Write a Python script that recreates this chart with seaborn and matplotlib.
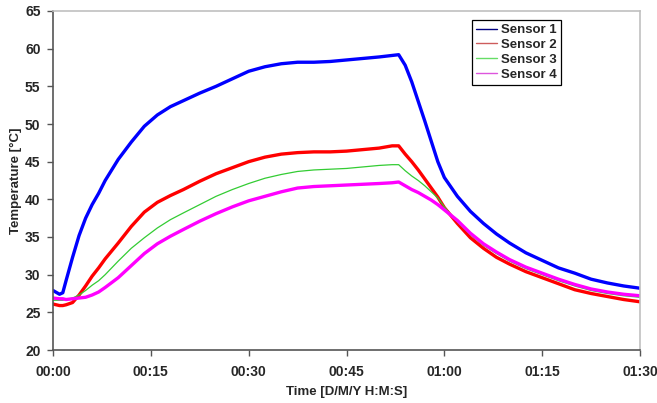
import pandas as pd
import matplotlib
matplotlib.use("Agg")
import matplotlib.pyplot as plt
from matplotlib.lines import Line2D
from matplotlib.ticker import FuncFormatter, MultipleLocator
import seaborn as sns

sns.set_style("white")
plt.rcParams['font.family'] = ['Liberation Sans', 'DejaVu Sans']

# time in minutes since start
time_min = [0, 1, 1.5, 2, 3, 4, 5, 6, 7, 8, 10, 12, 14, 16, 18, 20, 22.5, 25, 27.5,
            30, 32.5, 35, 37.5, 40, 42.5, 45, 47.5, 50, 52, 53, 54, 55, 56, 57,
            58, 59, 60, 62, 64, 66, 68, 70, 72.5, 75, 77.5, 80, 82.5, 85, 87.5, 90]

sensor1 = [27.9, 27.4, 27.6, 29.2, 32.3, 35.2, 37.5, 39.3, 40.8, 42.5, 45.3, 47.6,
           49.7, 51.2, 52.3, 53.1, 54.1, 55.0, 56.0, 57.0, 57.6, 58.0, 58.2, 58.2,
           58.3, 58.5, 58.7, 58.9, 59.1, 59.2, 57.8, 55.6, 53.0, 50.4, 47.7, 45.0,
           42.9, 40.4, 38.4, 36.8, 35.4, 34.2, 32.9, 31.9, 30.9, 30.2, 29.4, 28.9,
           28.5, 28.2]

sensor2 = [26.1, 25.9, 25.9, 26.0, 26.3, 27.3, 28.5, 29.8, 30.9, 32.1, 34.2, 36.4,
           38.3, 39.6, 40.5, 41.3, 42.4, 43.4, 44.2, 45.0, 45.6, 46.0, 46.2, 46.3,
           46.3, 46.4, 46.6, 46.8, 47.1, 47.1, 46.0, 45.0, 43.9, 42.7, 41.5, 40.3,
           38.9, 36.8, 34.9, 33.5, 32.3, 31.4, 30.4, 29.6, 28.8, 28.0, 27.5, 27.1,
           26.7, 26.4]

sensor3 = [26.6, 26.6, 26.6, 26.7, 26.9, 27.3, 27.9, 28.6, 29.2, 30.0, 31.8, 33.5,
           34.9, 36.2, 37.3, 38.2, 39.3, 40.4, 41.3, 42.1, 42.8, 43.3, 43.7, 43.9,
           44.0, 44.1, 44.3, 44.5, 44.6, 44.6, 43.8, 43.1, 42.5, 41.8, 41.0, 40.2,
           39.0, 37.0, 35.3, 33.9, 32.8, 31.8, 30.8, 30.0, 29.2, 28.5, 27.9, 27.5,
           27.2, 27.0]

sensor4 = [26.9, 26.8, 26.8, 26.7, 26.8, 26.9, 27.0, 27.3, 27.7, 28.3, 29.6, 31.2,
           32.8, 34.1, 35.1, 36.0, 37.1, 38.1, 39.0, 39.8, 40.4, 41.0, 41.5, 41.7,
           41.8, 41.9, 42.0, 42.1, 42.2, 42.3, 41.8, 41.3, 40.9, 40.4, 39.9, 39.3,
           38.6, 37.2, 35.5, 34.1, 33.0, 32.0, 31.0, 30.2, 29.4, 28.7, 28.1, 27.7,
           27.4, 27.2]

names = ["Sensor 1", "Sensor 2", "Sensor 3", "Sensor 4"]
line_colors = ["#0000ff", "#ff0000", "#33cc33", "#ff00ff"]
legend_colors = ["#000080", "#cd5c5c", "#66dd66", "#dd55dd"]
widths = [2.4, 2.4, 0.9, 2.4]

df = pd.DataFrame({"Time": time_min, "Sensor 1": sensor1, "Sensor 2": sensor2,
                   "Sensor 3": sensor3, "Sensor 4": sensor4})

fig = plt.figure(figsize=(6.57, 4.03), dpi=100)
ax = fig.add_axes([53 / 657, 1 - 350 / 403, (640 - 53) / 657, (350 - 11) / 403])

# draw order: blue, red, green, magenta
for name, col, lw in zip(names, line_colors, widths):
    sns.lineplot(data=df, x="Time", y=name, color=col, linewidth=lw, ax=ax)

ax.set_xlim(0, 90)
ax.set_ylim(20, 65)
ax.xaxis.set_major_locator(MultipleLocator(15))
ax.yaxis.set_major_locator(MultipleLocator(5))
ax.xaxis.set_major_formatter(FuncFormatter(lambda v, p: "%02d:%02d" % (int(v) // 60, int(v) % 60)))

ax.tick_params(axis="both", direction="out", length=4, width=1, color="#555555",
               labelsize=10, pad=5)
ax.tick_params(axis="x", bottom=True, pad=7)
ax.tick_params(axis="y", left=True)
for lab in ax.get_xticklabels() + ax.get_yticklabels():
    lab.set_fontweight("bold")

for side in ["left", "bottom"]:
    ax.spines[side].set_color("#555555")
    ax.spines[side].set_linewidth(1.2)
for side in ["top", "right"]:
    ax.spines[side].set_visible(True)
    ax.spines[side].set_color("#c0c0c0")
    ax.spines[side].set_linewidth(1.2)

ax.set_xlabel("Time [D/M/Y H:M:S]", fontsize=9.5, fontweight="bold", labelpad=5)
ax.set_ylabel("Temperature [°C]", fontsize=9.5, fontweight="bold", labelpad=2)

handles = [Line2D([0], [0], color=c, lw=1) for c in legend_colors]
leg = ax.legend(handles, names, loc="upper left", bbox_to_anchor=((472 - 53) / 587, 1 - 9 / 339),
                frameon=True, fancybox=False, edgecolor="black", framealpha=1,
                prop={"weight": "bold", "size": 9.5}, handlelength=1.6, handletextpad=0.3,
                labelspacing=0.2, borderpad=0.3, borderaxespad=0)
leg.get_frame().set_linewidth(0.9)

fig.savefig("out.png", dpi=100, facecolor="white")
